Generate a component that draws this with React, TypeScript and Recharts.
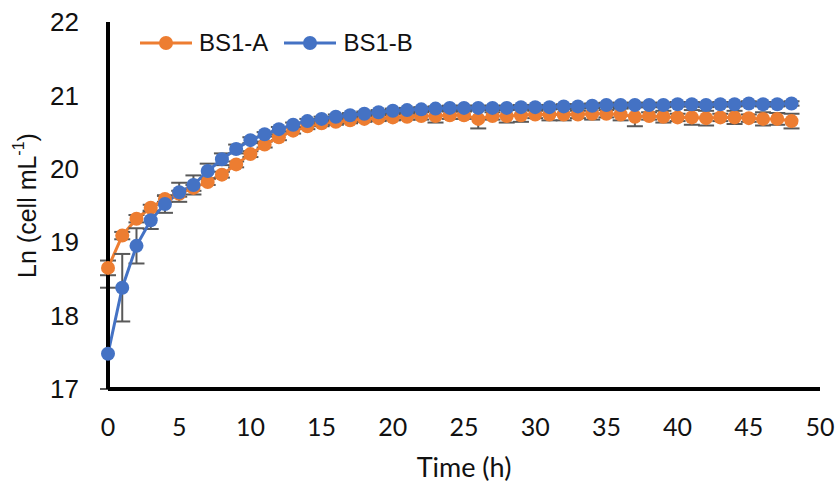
import { LineChart, Line, XAxis, YAxis, ErrorBar, Legend } from "recharts";

const hours = [
  0, 1, 2, 3, 4, 5, 6, 7, 8, 9, 10, 11, 12, 13, 14, 15, 16, 17, 18, 19, 20, 21, 22, 23, 24,
  25, 26, 27, 28, 29, 30, 31, 32, 33, 34, 35, 36, 37, 38, 39, 40, 41, 42, 43, 44, 45, 46, 47, 48,
];

const bs1A = [
  18.65, 19.09, 19.32, 19.47, 19.59, 19.66, 19.74, 19.82, 19.92, 20.06, 20.2, 20.33, 20.43,
  20.52, 20.58, 20.62, 20.64, 20.66, 20.68, 20.69, 20.7, 20.71, 20.72, 20.72, 20.73, 20.73,
  20.68, 20.72, 20.72, 20.73, 20.74, 20.74, 20.74, 20.74, 20.75, 20.75, 20.74, 20.71, 20.72,
  20.71, 20.7, 20.7, 20.69, 20.7, 20.7, 20.69, 20.68, 20.68, 20.65,
];

const bs1B = [
  17.48, 18.38, 18.95, 19.3, 19.52, 19.68, 19.78, 19.97, 20.13, 20.27, 20.39, 20.47, 20.54,
  20.6, 20.65, 20.68, 20.71, 20.73, 20.75, 20.77, 20.79, 20.8, 20.81, 20.82, 20.83, 20.83,
  20.83, 20.83, 20.83, 20.84, 20.84, 20.84, 20.85, 20.85, 20.86, 20.87, 20.87, 20.87, 20.87,
  20.87, 20.88, 20.88, 20.87, 20.88, 20.88, 20.89, 20.88, 20.88, 20.89,
];

const errA = [
  0.1, 0.05, 0.05, 0.04, 0.04, 0.04, 0.04, 0.04, 0.04, 0.04, 0.04, 0.04, 0.04, 0.04, 0.04,
  0.04, 0.04, 0.04, 0.04, 0.04, 0.04, 0.04, 0.05, 0.09, 0.05, 0.05, 0.13, 0.05, 0.09, 0.09,
  0.05, 0.08, 0.08, 0.05, 0.08, 0.05, 0.08, 0.13, 0.05, 0.08, 0.05, 0.1, 0.1, 0.05, 0.09,
  0.05, 0.09, 0.08, 0.1,
];

const errB = [
  [0.48, 0.9], 0.46, 0.24, 0.12, 0.12, 0.13, 0.13, 0.1, 0.08, 0.06, 0.04, 0.03, 0.03, 0.03,
  0.03, 0.03, 0.03, 0.03, 0.03, 0.03, 0.03, 0.03, 0.03, 0.03, 0.03, 0.03, 0.03, 0.03, 0.03,
  0.03, 0.03, 0.03, 0.03, 0.03, 0.03, 0.03, 0.03, 0.03, 0.03, 0.03, 0.03, 0.03, 0.03, 0.03,
  0.03, 0.03, 0.03, 0.03, 0.03,
];

const xTicks = [0, 5, 10, 15, 20, 25, 30, 35, 40, 45, 50];
const yTicks = [17, 18, 19, 20, 21, 22];

const data = hours.map((t, i) => ({
  t,
  a: bs1A[i],
  b: bs1B[i],
  errA: errA[i],
  errB: errB[i],
}));

const ORANGE = "#ED7D31";
const BLUE = "#4472C4";

function LegendContent({ payload }: any) {
  return (
    <div style={{ display: "flex", alignItems: "center", whiteSpace: "nowrap", fontFamily: "'Liberation Sans', Arial, sans-serif", fontSize: 24, lineHeight: "24px", color: "#111" }}>
      {(payload || []).map((p: any) => (
        <div key={p.value} style={{ display: "flex", alignItems: "center", marginRight: 16 }}>
          <svg width={52} height={20} style={{ marginRight: 7 }}>
            <line x1={0} y1={10} x2={52} y2={10} stroke={p.color} strokeWidth={3} />
            <circle cx={26} cy={10} r={7} fill={p.color} />
          </svg>
          <span>{p.value}</span>
        </div>
      ))}
    </div>
  );
}

function YTitle({ viewBox }: any) {
  const cy = viewBox.y + viewBox.height / 2;
  const cx = 27;
  return (
    <text
      x={cx}
      y={cy}
      transform={`rotate(-90, ${cx}, ${cy})`}
      textAnchor="middle"
      dominantBaseline="central"
      fontFamily="'Liberation Sans', Arial, sans-serif"
      fontSize={25}
      fill="#111"
    >
      Ln (cell mL
      <tspan dy={-9} fontSize={16}>-1</tspan>
      <tspan dy={9}>)</tspan>
    </text>
  );
}

export default function App() {
  return (
    <div style={{ position: "absolute", left: 0, top: 0, width: 838, height: 484, background: "#fff" }}>
      <LineChart width={838} height={484} data={data} margin={{ top: 22, right: 18, left: 0, bottom: 0 }}>
        <XAxis
          dataKey="t"
          type="number"
          domain={[0, 50]}
          ticks={xTicks}
          interval={0}
          height={95}
          tickSize={0}
          tickMargin={29}
          axisLine={{ stroke: "#000", strokeWidth: 4 }}
          tickLine={false}
          tick={{ fontFamily: "Lato, 'Open Sans', sans-serif", fontSize: 25, fill: "#111" }}
          label={{
            value: "Time (h)",
            position: "insideBottom",
            offset: 7,
            fontFamily: "Lato, 'Open Sans', sans-serif",
            fontSize: 27,
            fill: "#111",
          }}
        />
        <YAxis
          type="number"
          domain={[17, 22]}
          ticks={yTicks}
          interval={0}
          allowDataOverflow
          width={108}
          tickSize={0}
          tickMargin={29}
          axisLine={{ stroke: "#000", strokeWidth: 4 }}
          tickLine={false}
          tick={{ fontFamily: "'Liberation Sans', Arial, sans-serif", fontSize: 26, fill: "#111" }}
          label={<YTitle />}
        />
        <Legend
          layout="horizontal"
          verticalAlign="middle"
          align="center"
          content={<LegendContent />}
          wrapperStyle={{ left: 140, top: 31, width: 320 }}
        />
        <Line
          name="BS1-A"
          dataKey="a"
          stroke={ORANGE}
          strokeWidth={3}
          dot={{ r: 7, fill: ORANGE, stroke: ORANGE, strokeWidth: 0 }}
          activeDot={false}
          isAnimationActive={false}
        >
          <ErrorBar dataKey="errA" direction="y" width={8} strokeWidth={2} stroke="#595959" />
        </Line>
        <Line
          name="BS1-B"
          dataKey="b"
          stroke={BLUE}
          strokeWidth={3}
          dot={{ r: 7, fill: BLUE, stroke: BLUE, strokeWidth: 0 }}
          activeDot={false}
          isAnimationActive={false}
        >
          <ErrorBar dataKey="errB" direction="y" width={8} strokeWidth={2} stroke="#595959" />
        </Line>
      </LineChart>
    </div>
  );
}
